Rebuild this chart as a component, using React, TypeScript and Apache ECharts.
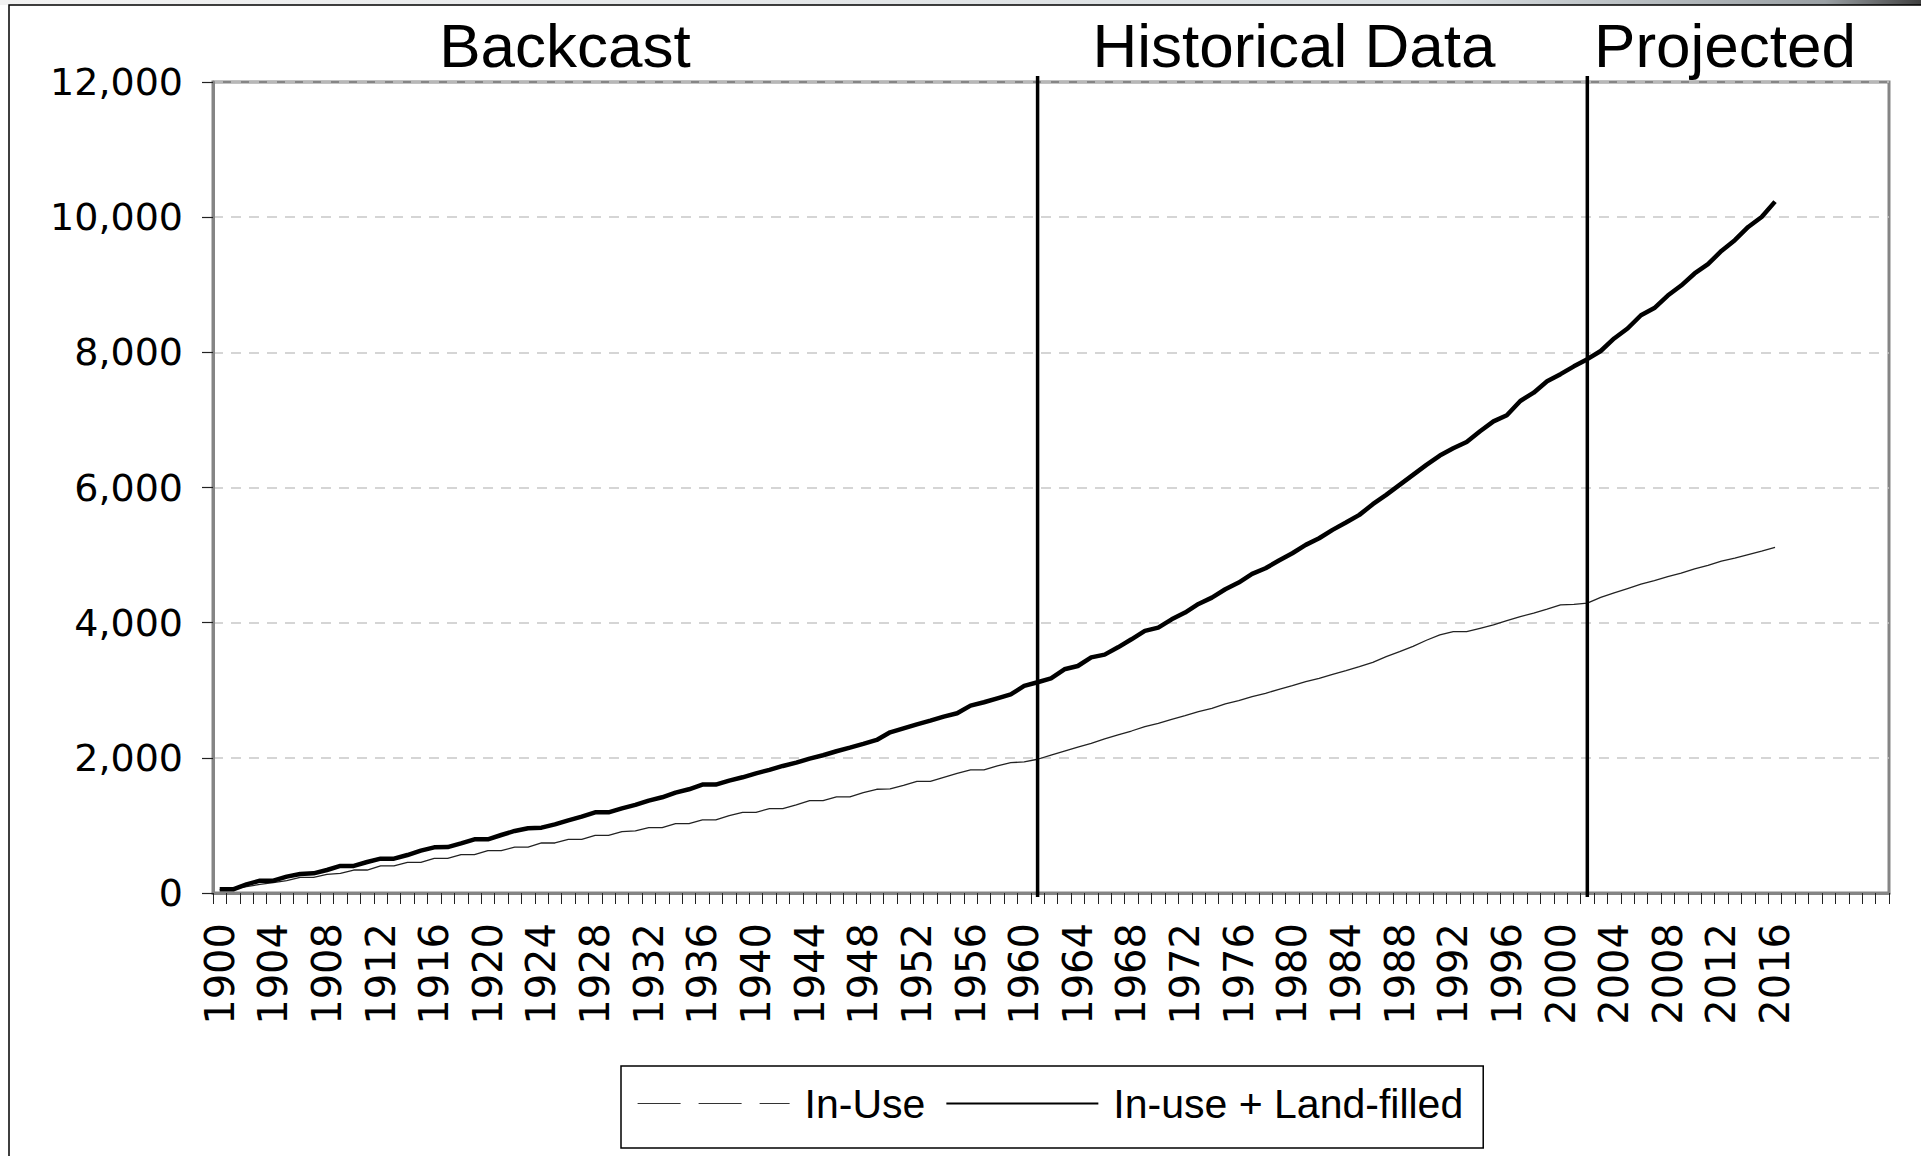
import React, { useEffect, useRef } from "react";
import * as echarts from "echarts";

const FIRST_YEAR = 1900;
const LAST_LABEL_YEAR = 2016;
const AXIS_LAST_YEAR = 2024;

const years: string[] = [];
for (let y = FIRST_YEAR; y <= AXIS_LAST_YEAR; y++) years.push(String(y));

const seriesNames = ["In-Use", "In-use + Land-filled"];

// In-Use, 1900-2016
const inUse = [
  50, 60, 93, 128, 153, 182, 232, 232, 276, 291,
  340, 340, 400, 400, 454, 454, 513, 513, 567, 567,
  626, 626, 680, 680, 740, 740, 794, 794, 853, 853,
  908, 918, 967, 967, 1026, 1026, 1081, 1081, 1145, 1194,
  1194, 1248, 1248, 1303, 1367, 1367, 1421, 1421, 1485, 1535,
  1540, 1594, 1653, 1653, 1712, 1771, 1821, 1821, 1880, 1929,
  1939, 1979, 2040, 2100, 2160, 2215, 2279, 2338, 2397, 2461,
  2511, 2570, 2624, 2683, 2733, 2797, 2846, 2905, 2955, 3014,
  3068, 3128, 3177, 3236, 3290, 3349, 3413, 3497, 3570, 3650,
  3740, 3818, 3868, 3868, 3917, 3966, 4030, 4089, 4140, 4199,
  4262, 4272, 4290, 4373, 4442, 4505, 4569, 4622, 4680, 4733,
  4797, 4849, 4912, 4955, 5008, 5060, 5113,
];

// In-use + Land-filled, 1900-2016
const inUseLandfilled = [
  55, 55, 128, 182, 182, 242, 281, 291, 340, 400,
  400, 459, 508, 508, 562, 626, 676, 680, 735, 794,
  794, 858, 918, 957, 967, 1016, 1075, 1130, 1194, 1194,
  1253, 1303, 1367, 1416, 1485, 1535, 1604, 1604, 1663, 1712,
  1771, 1821, 1880, 1929, 1988, 2038, 2097, 2151, 2206, 2265,
  2378, 2437, 2496, 2550, 2609, 2659, 2772, 2822, 2881, 2940,
  3064, 3118, 3177, 3310, 3359, 3487, 3527, 3635, 3754, 3878,
  3927, 4050, 4149, 4277, 4371, 4494, 4593, 4721, 4805, 4919,
  5027, 5151, 5249, 5373, 5481, 5595, 5753, 5891, 6039, 6187,
  6335, 6473, 6580, 6673, 6832, 6979, 7069, 7280, 7403, 7571,
  7677, 7793, 7899, 8020, 8205, 8353, 8549, 8655, 8840, 8988,
  9167, 9305, 9500, 9659, 9855, 10003, 10230,
];

const dividerYears = ["1961", "2002"];
const sectionLabels = ["Backcast", "Historical Data", "Projected"];

const Y_MIN = 0;
const Y_MAX = 12000;
const Y_STEP = 2000;

const FONT = "'Liberation Sans', Arial, Helvetica, sans-serif";
const AXIS_FONT = "'DejaVu Sans', 'Liberation Sans', Arial, sans-serif";

export default function App() {
  const ref = useRef<HTMLDivElement | null>(null);

  useEffect(() => {
    if (!ref.current) return;
    const chart = echarts.init(ref.current, null, { renderer: "svg" });

    const sectionText = (text: string, x: number) => ({
      type: "text",
      silent: true,
      style: {
        text,
        x,
        y: 45,
        align: "center",
        verticalAlign: "middle",
        fontSize: 62,
        fontFamily: FONT,
        fill: "#000",
      },
    });

    const option: any = {
      animation: false,
      backgroundColor: "#ffffff",
      textStyle: { fontFamily: FONT, color: "#000" },
      grid: {
        left: 213,
        top: 82,
        right: 32,
        bottom: 263,
        show: true,
        borderColor: "#858585",
        borderWidth: 3,
        containLabel: false,
        outerBoundsMode: "none",
      },
      graphic: [
        {
          type: "rect",
          silent: true,
          shape: { x: 0, y: 0, width: 1921, height: 5 },
          style: {
            fill: new echarts.graphic.LinearGradient(0, 0, 1, 0, [
              { offset: 0, color: "#f2f2f2" },
              { offset: 0.75, color: "#d8dde0" },
              { offset: 0.95, color: "#9aa0a4" },
              { offset: 1, color: "#404040" },
            ]),
          },
        },
        {
          type: "rect",
          silent: true,
          shape: { x: 9, y: 5, width: 1940, height: 1200 },
          style: { fill: "none", stroke: "#000", lineWidth: 1.5 },
        },
        sectionText(sectionLabels[0], 565),
        sectionText(sectionLabels[1], 1294),
        sectionText(sectionLabels[2], 1725),
      ],
      legend: {
        left: 621,
        top: 1066,
        orient: "horizontal",
        padding: [17, 20, 24, 16],
        borderColor: "#000",
        borderWidth: 1.5,
        backgroundColor: "#fff",
        itemWidth: 152,
        itemHeight: 10,
        itemGap: 20,
        selectedMode: false,
        itemStyle: { opacity: 0 },
        textStyle: {
          fontSize: 41,
          fontFamily: FONT,
          color: "#000",
          padding: [0, 0, 0, 10],
        },
        data: [
          {
            name: seriesNames[0],
            itemStyle: { opacity: 0 },
            lineStyle: { type: [43, 18], width: 1.2, color: "#333" },
          },
          { name: seriesNames[1], itemStyle: { opacity: 0 } },
        ],
      },
      xAxis: {
        type: "category",
        data: years,
        boundaryGap: true,
        axisLine: { show: true, lineStyle: { color: "#858585", width: 3 } },
        axisTick: {
          show: true,
          interval: 0,
          length: 11,
          lineStyle: { color: "#222", width: 1 },
        },
        axisLabel: {
          interval: 3,
          rotate: 90,
          margin: 30,
          fontSize: 40,
          fontFamily: AXIS_FONT,
          color: "#000",
          formatter: (v: string) => (Number(v) <= LAST_LABEL_YEAR ? v : ""),
        },
        splitLine: { show: false },
      },
      yAxis: {
        type: "value",
        min: Y_MIN,
        max: Y_MAX,
        interval: Y_STEP,
        axisLine: { show: true, lineStyle: { color: "#858585", width: 3 } },
        axisTick: { show: true, length: 11, lineStyle: { color: "#222", width: 1.2 } },
        axisLabel: {
          margin: 30,
          fontSize: 38,
          fontFamily: AXIS_FONT,
          color: "#000",
          formatter: (v: number) => v.toLocaleString("en-US"),
        },
        splitLine: {
          show: true,
          lineStyle: { color: "#c8c8c8", width: 1.5, type: [10, 8] },
        },
      },
      series: [
        {
          name: seriesNames[0],
          type: "line",
          data: inUse,
          symbol: "none",
          showSymbol: false,
          lineStyle: { color: "#222", width: 1.3 },
          itemStyle: { color: "#222" },
          z: 3,
        },
        {
          name: seriesNames[1],
          type: "line",
          data: inUseLandfilled,
          symbol: "none",
          showSymbol: false,
          lineStyle: { color: "#000", width: 4.5 },
          itemStyle: { color: "#000" },
          z: 4,
        },
        {
          name: "dividers",
          type: "custom",
          coordinateSystem: "cartesian2d",
          clip: false,
          silent: true,
          z: 5,
          data: dividerYears.map((y) => [y, 0]),
          encode: { x: 0, y: 1 },
          renderItem: (params: any, api: any) => {
            const xv = api.value(0);
            const top = api.coord([xv, Y_MAX]);
            const bot = api.coord([xv, Y_MIN]);
            return {
              type: "line",
              shape: { x1: top[0], y1: top[1] - 6, x2: bot[0], y2: bot[1] + 4 },
              style: { stroke: "#000", lineWidth: 3.5 },
            };
          },
        },
      ],
    };

    chart.setOption(option);
    return () => chart.dispose();
  }, []);

  return (
    <div
      ref={ref}
      style={{ position: "fixed", left: 0, top: 0, width: 1921, height: 1156 }}
    />
  );
}
